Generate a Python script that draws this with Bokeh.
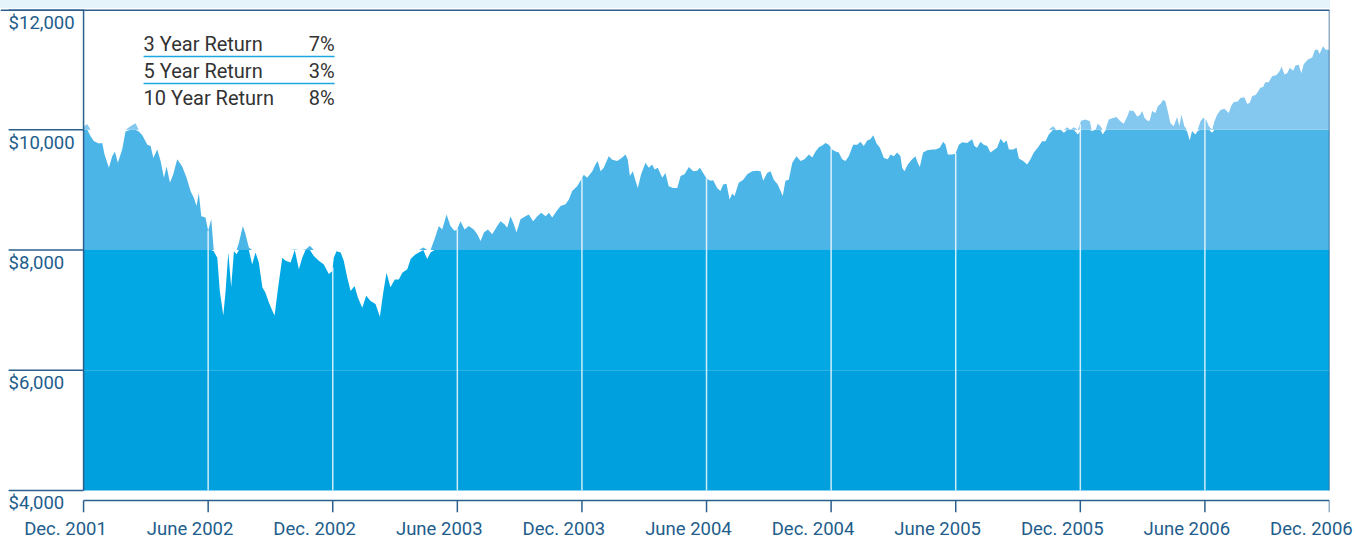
import numpy as np
from bokeh.plotting import figure
from bokeh.models import Range1d, FixedTicker, Label, Spacer
from bokeh.layouts import column
from bokeh.embed import file_html
from bokeh.resources import INLINE

# months since Dec. 2001 and value of a $10,000 investment
month = [
    0.00, 0.18, 0.34, 0.50, 0.74, 0.90, 1.01, 1.22, 1.38, 1.51, 1.65, 1.86, 2.02, 2.26, 2.50, 2.66,
    2.83, 3.07, 3.23, 3.36, 3.55, 3.71, 3.87, 4.00, 4.16, 4.32, 4.51, 4.75, 4.96, 5.15, 5.31, 5.44,
    5.55, 5.67, 5.87, 6.00, 6.15, 6.27, 6.44, 6.56, 6.73, 6.84, 6.97, 7.11, 7.24, 7.37, 7.48, 7.67,
    7.80, 7.96, 8.12, 8.28, 8.44, 8.61, 8.76, 8.92, 9.09, 9.20, 9.36, 9.57, 9.73, 9.97, 10.17, 10.37,
    10.53, 10.69, 10.90, 11.09, 11.33, 11.57, 11.81, 11.98,
    12.05, 12.18, 12.38, 12.53, 12.70, 12.86, 13.05, 13.21, 13.42, 13.61, 13.82, 14.06, 14.27, 14.43,
    14.59, 14.78, 14.99, 15.18, 15.35, 15.59, 15.75, 15.99, 16.15, 16.36, 16.55, 16.71, 16.90, 17.11,
    17.27, 17.48, 17.67, 17.86, 17.99, 18.15, 18.35, 18.55, 18.79, 18.96, 19.12, 19.28, 19.47, 19.68,
    19.92, 20.08, 20.27, 20.40, 20.56, 20.72, 20.85, 21.04, 21.28, 21.44, 21.65, 21.85, 22.04, 22.25,
    22.41, 22.57, 22.78, 22.97, 23.21, 23.37, 23.53, 23.77, 23.93,
    24.09, 24.25, 24.50, 24.65, 24.76, 24.90, 25.05, 25.29, 25.46, 25.70, 25.94, 26.10, 26.21, 26.31,
    26.45, 26.58, 26.69, 26.85, 27.06, 27.22, 27.38, 27.50, 27.65, 27.87, 28.02, 28.18, 28.40, 28.59,
    28.75, 28.94, 29.15, 29.36, 29.55, 29.68, 29.84, 30.00, 30.19, 30.32, 30.51, 30.67, 30.80, 30.96,
    31.11, 31.24, 31.35, 31.55, 31.77, 31.96, 32.20, 32.44, 32.60, 32.73, 32.92, 33.08, 33.24, 33.43,
    33.53, 33.67, 33.80, 33.96, 34.13, 34.33, 34.53, 34.72, 34.93, 35.09, 35.25, 35.41, 35.57, 35.73,
    35.89,
    36.05, 36.21, 36.37, 36.53, 36.69, 36.85, 37.06, 37.26, 37.41, 37.57, 37.74, 37.89, 38.03, 38.19,
    38.35, 38.54, 38.73, 38.86, 39.02, 39.18, 39.34, 39.42, 39.53, 39.69, 39.90, 40.06, 40.17, 40.27,
    40.43, 40.63, 40.87, 41.03, 41.23, 41.40, 41.51, 41.62, 41.83, 41.99, 42.15, 42.31, 42.55, 42.79,
    42.90, 43.03, 43.19, 43.35, 43.52, 43.67, 43.87, 43.99, 44.16, 44.32, 44.45, 44.56, 44.77, 44.93,
    45.04, 45.25, 45.44, 45.60, 45.76, 45.95, 46.16, 46.32, 46.48, 46.69, 46.85, 47.05, 47.21, 47.37,
    47.53, 47.69, 47.88,
    48.04, 48.25, 48.46, 48.54, 48.73, 48.84, 48.97, 49.08, 49.21, 49.37, 49.53, 49.74, 49.93, 50.09,
    50.26, 50.37, 50.57, 50.74, 50.86, 50.98, 51.09, 51.22, 51.34, 51.46, 51.62, 51.73, 51.86, 51.99,
    52.10, 52.21, 52.34, 52.50, 52.66, 52.77, 52.87, 53.01, 53.14, 53.27, 53.38, 53.54, 53.65, 53.79,
    53.92, 54.08, 54.19, 54.35, 54.46, 54.59, 54.75, 54.94, 55.15, 55.26, 55.39, 55.58, 55.71, 55.90,
    56.04, 56.16, 56.28, 56.44, 56.57, 56.67, 56.80, 56.91, 57.07, 57.24, 57.45, 57.61, 57.69, 57.83,
    57.96, 58.09, 58.25, 58.36, 58.52, 58.64, 58.76, 58.96, 59.17, 59.30, 59.44, 59.52, 59.69, 59.82,
    59.98, 60.00,
]
fund_value = [
    10060, 10090, 9890, 9810, 9770, 9780, 9590, 9370, 9560, 9640, 9450, 9670, 9970, 10060, 10110, 9970,
    9910, 9750, 9730, 9530, 9670, 9480, 9200, 9390, 9120, 9260, 9510, 9390, 9200, 8980, 8870, 8730,
    8950, 8560, 8540, 8320, 8510, 7980, 7870, 7320, 6910, 7320, 7960, 7380, 7980, 7930, 8120, 8400,
    8260, 8040, 7760, 7960, 7790, 7380, 7290, 7130, 6990, 6910, 7350, 7870, 7820, 7790, 8010, 7680,
    7870, 8010, 8070, 7900, 7820, 7760, 7600, 7650,
    7870, 7980, 7960, 7820, 7540, 7320, 7400, 7210, 7040, 7240, 7150, 7100, 6890, 7290,
    7620, 7380, 7510, 7510, 7620, 7680, 7850, 7930, 7960, 8040, 7850, 7960, 8180, 8400,
    8340, 8590, 8400, 8320, 8340, 8480, 8340, 8400, 8340, 8260, 8150, 8290, 8340, 8260,
    8400, 8480, 8430, 8370, 8560, 8430, 8290, 8510, 8560, 8590, 8480, 8560, 8620, 8560,
    8620, 8540, 8650, 8730, 8760, 8840, 8980, 9060, 9150,
    9250, 9200, 9310, 9420, 9480, 9310, 9370, 9560, 9500, 9480, 9540, 9590, 9500, 9230,
    9310, 9150, 9030, 9260, 9450, 9370, 9420, 9340, 9370, 9200, 9280, 9060, 9030, 9030,
    9230, 9260, 9380, 9310, 9320, 9370, 9280, 9190, 9150, 9160, 9030, 8980, 9090, 9100,
    8840, 8940, 8900, 9120, 9170, 9260, 9310, 9320, 9310, 9150, 9280, 9310, 9170, 9090,
    9010, 8900, 9150, 9170, 9450, 9560, 9480, 9510, 9590, 9540, 9640, 9710, 9740, 9780,
    9750,
    9670, 9640, 9620, 9510, 9480, 9560, 9750, 9750, 9800, 9730, 9820, 9840, 9910, 9770,
    9700, 9530, 9510, 9590, 9560, 9620, 9560, 9370, 9310, 9420, 9510, 9560, 9450, 9380,
    9620, 9660, 9670, 9670, 9700, 9800, 9750, 9590, 9590, 9600, 9750, 9790, 9780, 9840,
    9730, 9700, 9800, 9750, 9730, 9620, 9670, 9700, 9850, 9780, 9820, 9670, 9670, 9700,
    9520, 9480, 9420, 9510, 9620, 9700, 9810, 9810, 9920, 10060, 9990, 10000, 9950, 10040,
    10000, 10040, 9920,
    10150, 10170, 10140, 9980, 10000, 10100, 10060, 9920, 9990, 10170, 10190, 10210, 10140, 10100,
    10220, 10320, 10310, 10220, 10240, 10310, 10200, 10150, 10150, 10310, 10280, 10390, 10430, 10500,
    10470, 10310, 10110, 10060, 10210, 10060, 10250, 10060, 9980, 9820, 9980, 9920, 9980, 10140,
    10200, 10150, 10060, 9950, 10140, 10250, 10330, 10350, 10280, 10390, 10460, 10470, 10530, 10540,
    10430, 10450, 10560, 10580, 10640, 10700, 10710, 10790, 10790, 10890, 10910, 10980, 11050, 10920,
    10940, 11030, 10980, 11070, 11080, 10940, 11090, 11170, 11200, 11330, 11330, 11260, 11390, 11330,
    11330, 11330,
]

x_tick_months = [0, 6, 12, 18, 24, 30, 36, 42, 48, 54, 60]
x_tick_labels = ["Dec. 2001", "June 2002", "Dec. 2002", "June 2003", "Dec. 2003", "June 2004",
                 "Dec. 2004", "June 2005", "Dec. 2005", "June 2006", "Dec. 2006"]
y_tick_values = [4000, 6000, 8000, 10000, 12000]
y_tick_labels = ["$4,000", "$6,000", "$8,000", "$10,000", "$12,000"]
band_edges = [4000, 6000, 8000, 10000, 12000]
band_colors = ["#009fdd", "#02a8e3", "#4cb5e8", "#84c7ef"]
return_names = ["3 Year Return", "5 Year Return", "10 Year Return"]
return_values = ["7%", "3%", "8%"]
return_row_y = [11434, 10985, 10528]      # row centres, in value units
return_sep_y = [11218, 10769]

AXIS = "#2b5f8e"
TICK_TEXT = "#225d8c"
LEGEND_TEXT = "#333333"
FONT = "Roboto"

X_START, X_END = -4.0, 60.0       # frame also spans the value-label margin on the left
Y_START, Y_END = 3634.0, 12000.0  # frame also spans the date axis line and its ticks
AXIS_Y = 3834.0                   # date axis line sits a little below the $4,000 base
LABEL_X = -3.61                   # left edge of value labels / value tick lines
LABEL_SHIFT = 0.87                # date labels sit a little left of their ticks
TABLE_X0, TABLE_X1 = 2.89, 12.09

p = figure(width=1355, height=534, x_range=Range1d(X_START, X_END), y_range=Range1d(Y_START, Y_END),
           output_backend="svg", toolbar_location=None, y_axis_location=None,
           min_border_left=0, min_border_right=26, min_border_top=1, min_border_bottom=30)
p.background_fill_color = "white"
p.border_fill_color = "white"
p.outline_line_color = None
p.xgrid.visible = False
p.ygrid.visible = False

# date axis labels (Bokeh axis, ticks shifted slightly left of the tick marks)
shifted = [round(t - LABEL_SHIFT, 3) for t in x_tick_months]
xa = p.xaxis[0]
xa.ticker = FixedTicker(ticks=shifted)
xa.major_label_overrides = {s: lab for s, lab in zip(shifted, x_tick_labels)}
xa.axis_line_color = None
xa.major_tick_line_color = None
xa.minor_tick_line_color = None
xa.major_tick_out = 0
xa.major_tick_in = 0
xa.major_label_standoff = 5
xa.major_label_text_font = FONT
xa.major_label_text_font_size = "18.5px"
xa.major_label_text_color = TICK_TEXT

# stepped area fill
m = np.array(month, dtype=float)
v = np.array(fund_value, dtype=float)
for lo, hi, col in zip(band_edges[:-1], band_edges[1:], band_colors):
    p.varea(x=m, y1=np.full_like(v, lo), y2=np.clip(v, lo, hi), fill_color=col)

# white vertical guides at the inner date ticks, up to the curve
inner = np.array(x_tick_months[1:-1], dtype=float)
p.segment(x0=inner, x1=inner, y0=np.full_like(inner, band_edges[0]), y1=np.interp(inner, m, v),
          line_color="white", line_width=1.5, line_alpha=0.8)

# date axis line and tick marks
n_x = len(x_tick_months)
p.segment(x0=[x_tick_months[0]], x1=[x_tick_months[-1]], y0=[AXIS_Y], y1=[AXIS_Y],
          line_color=AXIS, line_width=1.5)
p.segment(x0=x_tick_months, x1=x_tick_months, y0=[AXIS_Y] * n_x, y1=[Y_START] * n_x,
          line_color=AXIS, line_width=1.5)

# frame lines: left axis, right edge, top edge
p.segment(x0=[x_tick_months[0], x_tick_months[-1]], x1=[x_tick_months[0], x_tick_months[-1]],
          y0=[band_edges[0]] * 2, y1=[band_edges[-1]] * 2, line_color=AXIS, line_width=1.5)
p.segment(x0=[X_START], x1=[X_END], y0=[Y_END], y1=[Y_END], line_color=AXIS, line_width=3)

# value ticks (long lines to the left) and their labels below them
n_y = len(y_tick_values)
p.segment(x0=[LABEL_X] * n_y, x1=[x_tick_months[0]] * n_y, y0=y_tick_values, y1=y_tick_values,
          line_color=AXIS, line_width=1.5)
for val, lab in zip(y_tick_values, y_tick_labels):
    p.add_layout(Label(x=LABEL_X, y=val, x_units="data", y_units="data", y_offset=-2,
                       text=lab, text_align="left", text_baseline="top",
                       text_font=FONT, text_font_size="18.5px", text_color=TICK_TEXT))

# returns table
for name, pct, yy in zip(return_names, return_values, return_row_y):
    p.add_layout(Label(x=TABLE_X0, y=yy, text=name, text_align="left", text_baseline="middle",
                       text_font=FONT, text_font_size="20px", text_color=LEGEND_TEXT))
    p.add_layout(Label(x=TABLE_X1, y=yy, text=pct, text_align="right", text_baseline="middle",
                       text_font=FONT, text_font_size="20px", text_color=LEGEND_TEXT))
n_s = len(return_sep_y)
p.segment(x0=[TABLE_X0] * n_s, x1=[TABLE_X1] * n_s, y0=return_sep_y, y1=return_sep_y,
          line_color="#1ca6e2", line_width=1.5)

strip = Spacer(width=1330, height=8, styles={"background-color": "#e5f3fb"})
layout = column(strip, p, spacing=0)

open("out.html", "w").write(file_html(layout, INLINE))
